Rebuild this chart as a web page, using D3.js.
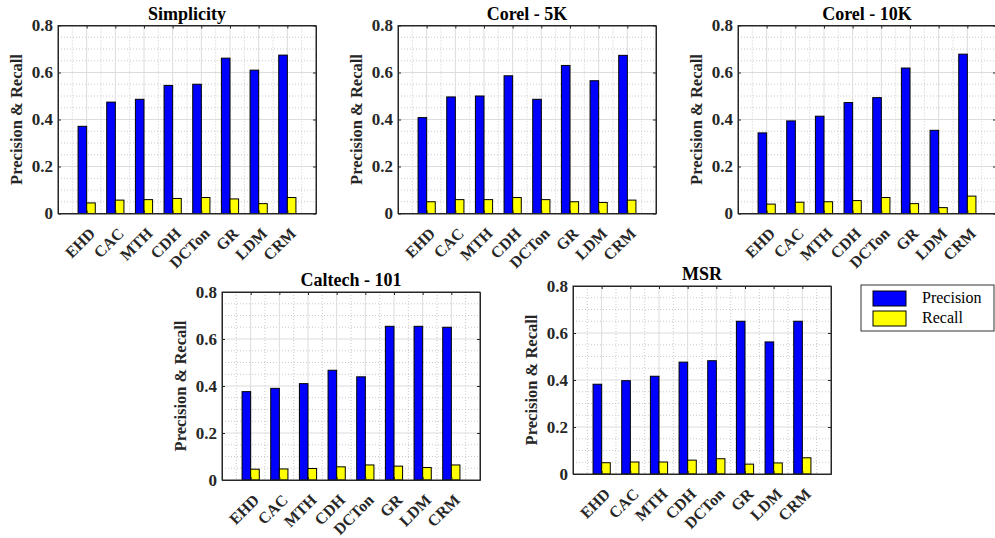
<!DOCTYPE html>
<html>
<head>
<meta charset="utf-8">
<script src="https://cdn.jsdelivr.net/npm/d3@7"></script>
<style>
  body { margin: 0; background: #fff; }
  svg { display: block; }
  text { font-family: "Liberation Serif", "Times New Roman", serif; }
</style>
</head>
<body>
<div id="chart"></div>
<script>
// methods on the x axis of every panel
const methods = ["EHD", "CAC", "MTH", "CDH", "DCTon", "GR", "LDM", "CRM"];

// values, one pair of arrays per dataset
const simplicityPrecision = [0.371, 0.474, 0.486, 0.545, 0.550, 0.661, 0.610, 0.674];
const simplicityRecall = [0.045, 0.057, 0.059, 0.064, 0.068, 0.062, 0.042, 0.068];
const corel5kPrecision = [0.408, 0.496, 0.500, 0.586, 0.486, 0.630, 0.565, 0.673];
const corel5kRecall = [0.050, 0.059, 0.059, 0.068, 0.059, 0.050, 0.047, 0.057];
const corel10kPrecision = [0.343, 0.394, 0.414, 0.472, 0.493, 0.619, 0.354, 0.678];
const corel10kRecall = [0.040, 0.048, 0.050, 0.055, 0.068, 0.042, 0.025, 0.074];
const caltechPrecision = [0.376, 0.390, 0.410, 0.467, 0.439, 0.654, 0.654, 0.650];
const caltechRecall = [0.046, 0.047, 0.049, 0.056, 0.064, 0.059, 0.053, 0.064];
const msrPrecision = [0.382, 0.397, 0.416, 0.476, 0.482, 0.650, 0.562, 0.650];
const msrRecall = [0.048, 0.051, 0.051, 0.059, 0.065, 0.042, 0.047, 0.069];

const yTicks = [0, 0.2, 0.4, 0.6, 0.8];
const seriesNames = ["Precision", "Recall"];
const seriesColors = ["#0000ff", "#ffff00"];

// where each panel's plot box sits
const panels = [
  { title: "Simplicity", p: simplicityPrecision, r: simplicityRecall, x: 58, y: 25.5 },
  { title: "Corel - 5K", p: corel5kPrecision, r: corel5kRecall, x: 398, y: 25.5 },
  { title: "Corel - 10K", p: corel10kPrecision, r: corel10kRecall, x: 738, y: 25.5 },
  { title: "Caltech - 101", p: caltechPrecision, r: caltechRecall, x: 222, y: 292 },
  { title: "MSR", p: msrPrecision, r: msrRecall, x: 573, y: 286 },
];

const W = 995, H = 538;
const pw = 258, ph = 188;
const axisColor = "#262626";

const svg = d3.select("#chart").append("svg").attr("width", W).attr("height", H);

const x = d3.scaleLinear().domain([0, 9]).range([0, pw]);
const y = d3.scaleLinear().domain([0, 0.8]).range([ph, 0]);
const barW = 0.3;

panels.forEach(function (d) {
  const g = svg.append("g").attr("transform", "translate(" + d.x + "," + d.y + ")");

  g.append("rect").attr("width", pw).attr("height", ph).attr("fill", "#fff");

  // minor grid (dotted)
  const minorY = d3.range(1, 16).map(i => i * 0.05).filter(v => Math.round(v * 100) % 20 !== 0);
  g.selectAll("line.minorY").data(minorY).enter().append("line")
    .attr("x1", 0).attr("x2", pw)
    .attr("y1", v => y(v)).attr("y2", v => y(v))
    .attr("stroke", "#bdbdbd").attr("stroke-width", 0.8).attr("stroke-dasharray", "1,2");
  const minorX = d3.range(0, 9).map(i => i + 0.5);
  g.selectAll("line.minorX").data(minorX).enter().append("line")
    .attr("y1", 0).attr("y2", ph)
    .attr("x1", v => x(v)).attr("x2", v => x(v))
    .attr("stroke", "#bdbdbd").attr("stroke-width", 0.8).attr("stroke-dasharray", "1,2");

  // major grid
  g.selectAll("line.majorY").data([0.2, 0.4, 0.6]).enter().append("line")
    .attr("x1", 0).attr("x2", pw)
    .attr("y1", v => y(v)).attr("y2", v => y(v))
    .attr("stroke", "#dcdcdc").attr("stroke-width", 1);
  g.selectAll("line.majorX").data(d3.range(1, 9)).enter().append("line")
    .attr("y1", 0).attr("y2", ph)
    .attr("x1", v => x(v)).attr("x2", v => x(v))
    .attr("stroke", "#dcdcdc").attr("stroke-width", 1);

  // bars
  g.selectAll("rect.prec").data(d.p).enter().append("rect")
    .attr("x", (v, i) => x(i + 1 - barW))
    .attr("width", x(barW) - x(0))
    .attr("y", v => y(v))
    .attr("height", v => y(0) - y(v))
    .attr("fill", seriesColors[0]).attr("stroke", "#000").attr("stroke-width", 1);
  g.selectAll("rect.rec").data(d.r).enter().append("rect")
    .attr("x", (v, i) => x(i + 1))
    .attr("width", x(barW) - x(0))
    .attr("y", v => y(v))
    .attr("height", v => y(0) - y(v))
    .attr("fill", seriesColors[1]).attr("stroke", "#000").attr("stroke-width", 1);

  // axes with inward ticks, box on
  const left = g.append("g")
    .call(d3.axisLeft(y).tickValues(yTicks).tickFormat(d3.format("~g")).tickSizeInner(-3).tickSizeOuter(0).tickPadding(5));
  const bottom = g.append("g").attr("transform", "translate(0," + ph + ")")
    .call(d3.axisBottom(x).tickValues(d3.range(1, 9)).tickFormat(i => methods[i - 1]).tickSizeInner(-3).tickSizeOuter(0));
  g.append("g")
    .call(d3.axisTop(x).tickValues(d3.range(1, 9)).tickFormat("").tickSizeInner(-3).tickSizeOuter(0));
  g.append("g").attr("transform", "translate(" + pw + ",0)")
    .call(d3.axisRight(y).tickValues(yTicks).tickFormat("").tickSizeInner(-3).tickSizeOuter(0));

  g.selectAll(".domain").attr("stroke", axisColor);
  g.selectAll(".tick line").attr("stroke", axisColor);
  g.selectAll(".tick text")
    .attr("fill", axisColor)
    .style("font-family", "'Liberation Serif', serif")
    .style("font-weight", "bold");
  left.selectAll(".tick text").style("font-size", "17px");

  bottom.selectAll(".tick text")
    .style("font-size", "16px")
    .attr("x", 0).attr("y", 0).attr("dy", 0)
    .attr("text-anchor", "end")
    .attr("transform", "translate(9,21) rotate(-45)");

  g.append("rect").attr("width", pw).attr("height", ph)
    .attr("fill", "none").attr("stroke", axisColor).attr("stroke-width", 1);

  // title and y label
  g.append("text")
    .attr("x", pw / 2).attr("y", -6)
    .attr("text-anchor", "middle")
    .style("font-size", "18px").style("font-weight", "bold")
    .attr("fill", "#000")
    .text(d.title);

  g.append("text")
    .attr("transform", "translate(-36," + ph / 2 + ") rotate(-90)")
    .attr("text-anchor", "middle")
    .style("font-size", "16.5px").style("font-weight", "bold")
    .attr("fill", axisColor)
    .text("Precision & Recall");
});

// legend
const legend = svg.append("g").attr("transform", "translate(861,285)");
legend.append("rect").attr("width", 133).attr("height", 46)
  .attr("fill", "#fff").attr("stroke", "#333").attr("stroke-width", 1);
seriesNames.forEach(function (name, i) {
  legend.append("rect")
    .attr("x", 12).attr("y", 6 + i * 20)
    .attr("width", 33).attr("height", 15)
    .attr("fill", seriesColors[i]).attr("stroke", "#000").attr("stroke-width", 1);
  legend.append("text")
    .attr("x", 61).attr("y", 18 + i * 20)
    .style("font-size", "16px")
    .attr("fill", "#000")
    .text(name);
});
</script>
</body>
</html>
